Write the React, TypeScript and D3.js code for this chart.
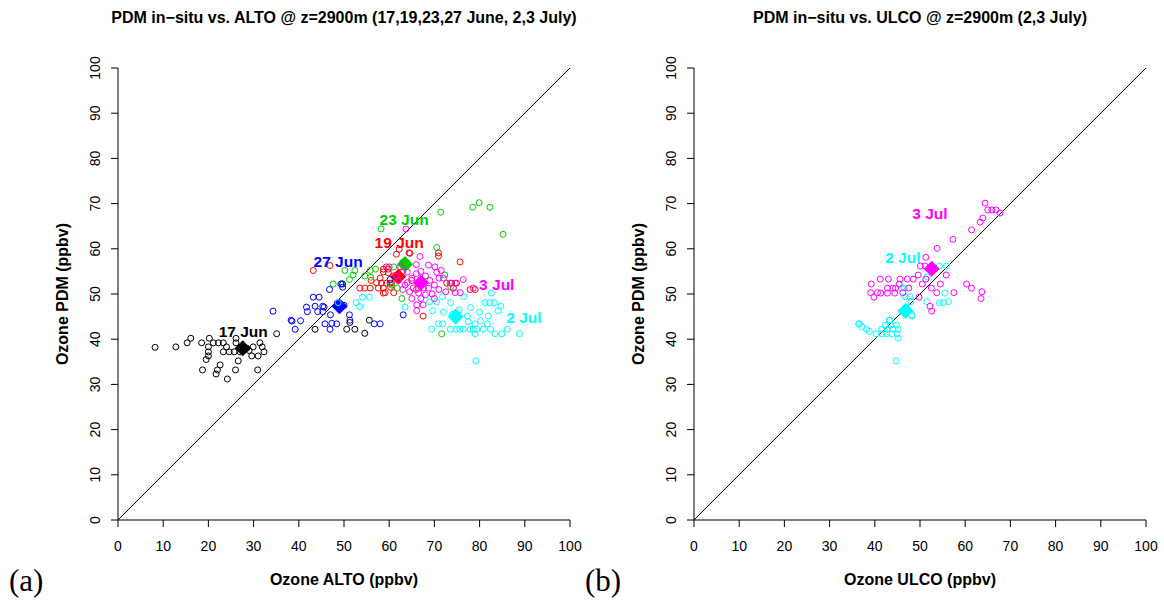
import React from "react";
import * as d3 from "d3";

// ---------- data ----------
const ticks = [0, 10, 20, 30, 40, 50, 60, 70, 80, 90, 100];

// left panel: PDM in-situ (y) vs ALTO (x)
const jun17: [number, number][] = [
  [8.2, 38.2], [12.8, 38.3], [15.3, 39.2], [16.1, 40.2], [18.5, 39.2], [20.2, 40.2], [20, 38.3], [20, 37.2],
  [20, 36.3], [21.1, 39.2], [22.2, 39.2], [23.3, 39.2], [24, 38.3], [23.3, 37.2], [24.6, 37.2], [25.7, 37.2],
  [26.1, 40.2], [26.1, 39.2], [27, 37.2], [29.9, 38.3], [31.4, 39.2], [31.9, 38.3], [32.3, 37.2], [31, 36.3],
  [29.6, 36.3], [26.6, 35.2], [22.6, 34.3], [22, 33.2], [18.7, 33.2], [21.7, 32.3], [24.2, 31.2], [26, 33.2],
  [30.9, 33.2], [35.1, 41.2], [43.6, 42.2], [50.6, 42.2], [51.3, 43.7], [52.4, 42.2], [54.6, 41.3], [55.6, 44.2],
  [28.5, 38], [29, 37.5], [19.5, 35.5],
];
const jun19: [number, number][] = [
  [43.2, 55.2], [46.9, 56.3], [61.6, 58.8], [62.2, 59.9], [64.6, 59], [59.4, 56], [58.7, 54.9], [59.8, 54.7],
  [58, 53.5], [53.5, 51.3], [54.6, 51.3], [55.8, 51.3], [57.6, 51.3], [58.7, 51.3], [60.2, 52.4], [59.1, 50.3],
  [57.2, 52.5], [64.4, 59.1], [75.7, 57.1], [72.7, 52.4], [73.8, 52.4], [74.9, 52.4], [77.9, 51], [79, 51],
  [67.5, 45.1], [74.2, 51.3], [70.9, 59.1], [70.9, 58.4], [56, 53], [61, 54], [63, 55], [65, 53], [66, 51],
  [61, 50.3], [60.3, 51.5], [58.3, 52.4], [59.4, 52.4], [60.5, 52.4], [58.7, 55.5], [59.8, 55.5], [58.7, 50.2],
];
const jun23: [number, number][] = [
  [50.2, 55.2], [47.6, 52.2], [49.5, 52.3], [51.2, 53.2], [52, 54.2], [52.4, 55.2], [54.6, 54], [55.8, 55.2],
  [55.9, 53.7], [62.8, 49], [58.2, 64.4], [71.4, 68.1], [78.5, 69.2], [79.9, 70.2], [82.3, 69.2], [85.2, 63.2],
  [70.5, 60.3], [72.3, 54.2], [73.6, 51.6], [71.6, 41.2], [61, 56], [63, 57], [60.5, 52], [57, 55.5], [61.8, 51.3],
];
const jun27: [number, number][] = [
  [34.3, 46.2], [38.3, 44.2], [38.5, 44], [39.2, 42.2], [40.4, 44.1], [41.9, 46.1], [43.2, 49.3], [44.5, 49.3],
  [45.3, 47.3], [44.2, 46.1], [45.3, 46.1], [46.8, 51], [49.3, 52.2], [49.7, 52.2], [49.7, 51.5], [47, 45.4],
  [45.8, 43.4], [46.9, 42.2], [48.4, 43.4], [51.2, 45.4], [51.3, 44.2], [56.7, 43.4], [58, 43.4], [63.1, 45.4],
  [41.7, 47.1], [43.6, 47.3], [45.6, 47.1], [47.3, 43.5], [60.2, 53.2], [48.5, 48], [50, 47.5],
];
const jul2A: [number, number][] = [
  [82.6, 50.2], [71.8, 49.4], [73.6, 48.1], [69.6, 46.3], [76.5, 49.4], [81.2, 48.1], [82.2, 48.1], [83.2, 48.1],
  [84.7, 47.3], [84.1, 46.3], [70.9, 43.4], [71.8, 43.4], [77.3, 45.1], [77.5, 43.9], [79, 43.4], [80.2, 44.1],
  [81.9, 45.1], [81.7, 43.4], [69.4, 42.2], [73.5, 42.2], [74.9, 42.2], [76.4, 42.2], [77.9, 42.2], [79.4, 42.2],
  [80.8, 42.2], [75.6, 42.2], [78.6, 42.2], [79, 41.2], [82.4, 42.2], [83.4, 41.2], [84.9, 41.2], [86.1, 42.2],
  [88.8, 41.2], [79.2, 35.2], [68.9, 48.3], [70.5, 48.3], [63.5, 47.1], [52.7, 48.1], [54.1, 49.3], [55.6, 49.3],
  [53.5, 47.2], [48.7, 48.1], [72, 46], [74, 45.5], [75.5, 46.5], [78, 47], [80, 46],
];
const jul3A: [number, number][] = [
  [63.7, 64.4], [66.8, 58.3], [68.7, 56.4], [70.1, 56], [76.4, 53.2], [73.5, 52.4], [74.6, 52.4], [74.6, 50.3],
  [75.7, 50.3], [78.6, 51.3], [66.1, 47.6], [67.5, 47.6], [66.1, 46.3], [65.3, 51.3], [66.4, 51.3], [67.6, 51.3],
  [68.7, 51.3], [65, 53.5], [66, 54.5], [67, 55], [68, 54], [69, 53], [70, 52], [71, 51], [72, 53.5],
  [70.5, 54.8], [69.5, 50], [68, 49.8], [66.5, 50.2], [64.5, 50.5], [63.5, 52], [64, 54.8], [62.5, 56],
  [66, 56.5], [71.5, 55.2], [72.5, 50.5], [70, 49], [67, 49], [65, 49], [64, 52.5], [71, 53.5], [60, 56],
  [61.5, 54], [62, 53], [63, 51],
];

// right panel: PDM in-situ (y) vs ULCO (x)
const jul2B: [number, number][] = [
  [36.6, 43.4], [37.1, 42.8], [38.2, 42.2], [38.8, 41.7], [40.3, 41.2], [41.5, 41.2], [42.6, 41.2], [41.5, 42.2],
  [42.7, 42.2], [44, 42.2], [45.2, 42.2], [42.3, 43.1], [43.5, 43.1], [44.8, 43.1], [43.2, 44.2], [43.8, 41.2],
  [44.9, 41.2], [45.2, 40.2], [44.7, 35.2], [45.9, 51.3], [46.7, 49.4], [47.8, 49.4], [48, 48.3], [48.2, 45.1],
  [51.5, 48.3], [51.6, 53.8], [55.9, 56.2], [54.3, 56.2], [55.5, 50.2], [54.3, 48.1], [55.2, 48.1], [56.3, 48.3],
  [46.5, 51.3], [48.2, 45.4], [43.4, 44.2], [36.4, 43.4], [47, 47], [46, 46],
];
const jul3B: [number, number][] = [
  [64.4, 70.1], [65, 68.6], [65.9, 68.6], [66.8, 68.6], [67.7, 67.9], [63.9, 66.8], [63.3, 65.9], [61.4, 64.2],
  [57.3, 62.1], [53.8, 60.1], [51.3, 58.1], [50.1, 56.2], [51.1, 56.2], [55.8, 54.2], [39.2, 52.2], [41.2, 53.3],
  [43, 53.3], [45.6, 53.3], [47.2, 53.3], [48.5, 53.3], [49.6, 54.2], [51.3, 53.3], [45.4, 52.2], [42.8, 51.3],
  [44, 51.3], [44.6, 51.3], [39.1, 50.3], [40.6, 50.3], [41.3, 50.2], [42.8, 50.2], [44.4, 50.2], [39.8, 49.3],
  [49.8, 49.3], [53.7, 50.3], [57.5, 50.3], [52.2, 47.3], [52.6, 46.2], [60.3, 52.2], [61.4, 51.3], [63.5, 49],
  [63.7, 50.5], [47.5, 51.3], [52.5, 51.3], [54.5, 52.2], [50.5, 52.2], [46.2, 50.3],
];

// day names, colours, means (diamonds) and label anchors
const leftDays = ["17 Jun", "19 Jun", "23 Jun", "27 Jun", "2 Jul", "3 Jul"];
const leftColors = ["#000000", "#FF0000", "#00CD00", "#0000FF", "#00FFFF", "#FF00FF"];
const leftPoints = [jun17, jun19, jun23, jun27, jul2A, jul3A];
const leftMeans: [number, number][] = [[27.6, 38], [62, 53.8], [63.5, 56.6], [49, 47.3], [74.7, 45], [67, 52.5]];
const leftLabels: [number, number][] = [[27.7, 41.8], [62.2, 61.5], [63.3, 66.4], [48.7, 57.3], [89.8, 44.9], [83.8, 52.2]];

const rightDays = ["2 Jul", "3 Jul"];
const rightColors = ["#00FFFF", "#FF00FF"];
const rightPoints = [jul2B, jul3B];
const rightMeans: [number, number][] = [[46.8, 46.3], [52.6, 55.6]];
const rightLabels: [number, number][] = [[46.2, 58], [52.2, 67.9]];

const FONT = "'Liberation Sans', Arial, Helvetica, sans-serif";

type PanelProps = {
  x0: number;
  title: string;
  xlab: string;
  tag: string;
  days: string[];
  colors: string[];
  points: [number, number][][];
  means: [number, number][];
  labels: [number, number][];
};

function Panel({ x0, title, xlab, tag, days, colors, points, means, labels }: PanelProps) {
  const x = d3.scaleLinear().domain([0, 100]).range([x0, x0 + 452]);
  const y = d3.scaleLinear().domain([0, 100]).range([520, 68]);
  const cx = (x0 + x0 + 452) / 2;
  const diamond = d3.symbol().type(d3.symbolDiamond2).size(165)();
  return (
    <g>
      <text x={cx} y={17} textAnchor="middle" dominantBaseline="central" fontFamily={FONT} fontWeight="bold" fontSize={16}>
        {title}
      </text>
      {/* axes */}
      <line x1={x(0)} x2={x(100)} y1={y(0)} y2={y(0)} stroke="#000" strokeWidth={1} />
      <line x1={x(0)} x2={x(0)} y1={y(0)} y2={y(100)} stroke="#000" strokeWidth={1} />
      {ticks.map((t) => (
        <g key={"x" + t}>
          <line x1={x(t)} x2={x(t)} y1={y(0)} y2={y(0) + 7} stroke="#000" />
          <text x={x(t)} y={546} textAnchor="middle" dominantBaseline="central" fontFamily={FONT} fontSize={14}>
            {t}
          </text>
        </g>
      ))}
      {ticks.map((t) => (
        <g key={"y" + t}>
          <line x1={x(0)} x2={x(0) - 7} y1={y(t)} y2={y(t)} stroke="#000" />
          <text
            transform={`translate(${x(0) - 23.5},${y(t)}) rotate(-90)`}
            textAnchor="middle"
            dominantBaseline="central"
            fontFamily={FONT}
            fontSize={14}
          >
            {t}
          </text>
        </g>
      ))}
      <text x={cx} y={579} textAnchor="middle" dominantBaseline="central" fontFamily={FONT} fontWeight="bold" fontSize={16}>
        {xlab}
      </text>
      <text
        transform={`translate(${x0 - 56},${294}) rotate(-90)`}
        textAnchor="middle"
        dominantBaseline="central"
        fontFamily={FONT}
        fontWeight="bold"
        fontSize={16}
      >
        Ozone PDM (ppbv)
      </text>
      {/* 1:1 line */}
      <line x1={x(0)} y1={y(0)} x2={x(100)} y2={y(100)} stroke="#000" strokeWidth={1} />
      {points.map((pts, i) => (
        <g key={"s" + i}>
          {pts.map((p, j) => (
            <circle key={j} cx={x(p[0])} cy={y(p[1])} r={3} fill="none" stroke={colors[i]} strokeWidth={1} />
          ))}
          <path d={diamond || ""} transform={`translate(${x(means[i][0])},${y(means[i][1])})`} fill={colors[i]} />
        </g>
      ))}
      {labels.map((l, i) => (
        <text
          key={"l" + i}
          x={x(l[0])}
          y={y(l[1])}
          textAnchor="middle"
          dominantBaseline="central"
          fontFamily={FONT}
          fontWeight="bold"
          fontSize={15.5}
          fill={colors[i]}
        >
          {days[i]}
        </text>
      ))}
      <text x={x0 - 109} y={591} fontFamily="'Liberation Serif', 'DejaVu Serif', serif" fontSize={31}>
        {tag}
      </text>
    </g>
  );
}

export default function App() {
  return (
    <svg width={1164} height={602} style={{ position: "absolute", left: 0, top: 0, background: "#fff" }}>
      <rect width={1164} height={602} fill="#fff" />
      <Panel
        x0={118}
        title="PDM in−situ vs. ALTO @ z=2900m (17,19,23,27 June, 2,3 July)"
        xlab="Ozone ALTO (ppbv)"
        tag="(a)"
        days={leftDays}
        colors={leftColors}
        points={leftPoints}
        means={leftMeans}
        labels={leftLabels}
      />
      <Panel
        x0={694}
        title="PDM in−situ vs. ULCO @ z=2900m (2,3 July)"
        xlab="Ozone ULCO (ppbv)"
        tag="(b)"
        days={rightDays}
        colors={rightColors}
        points={rightPoints}
        means={rightMeans}
        labels={rightLabels}
      />
    </svg>
  );
}
